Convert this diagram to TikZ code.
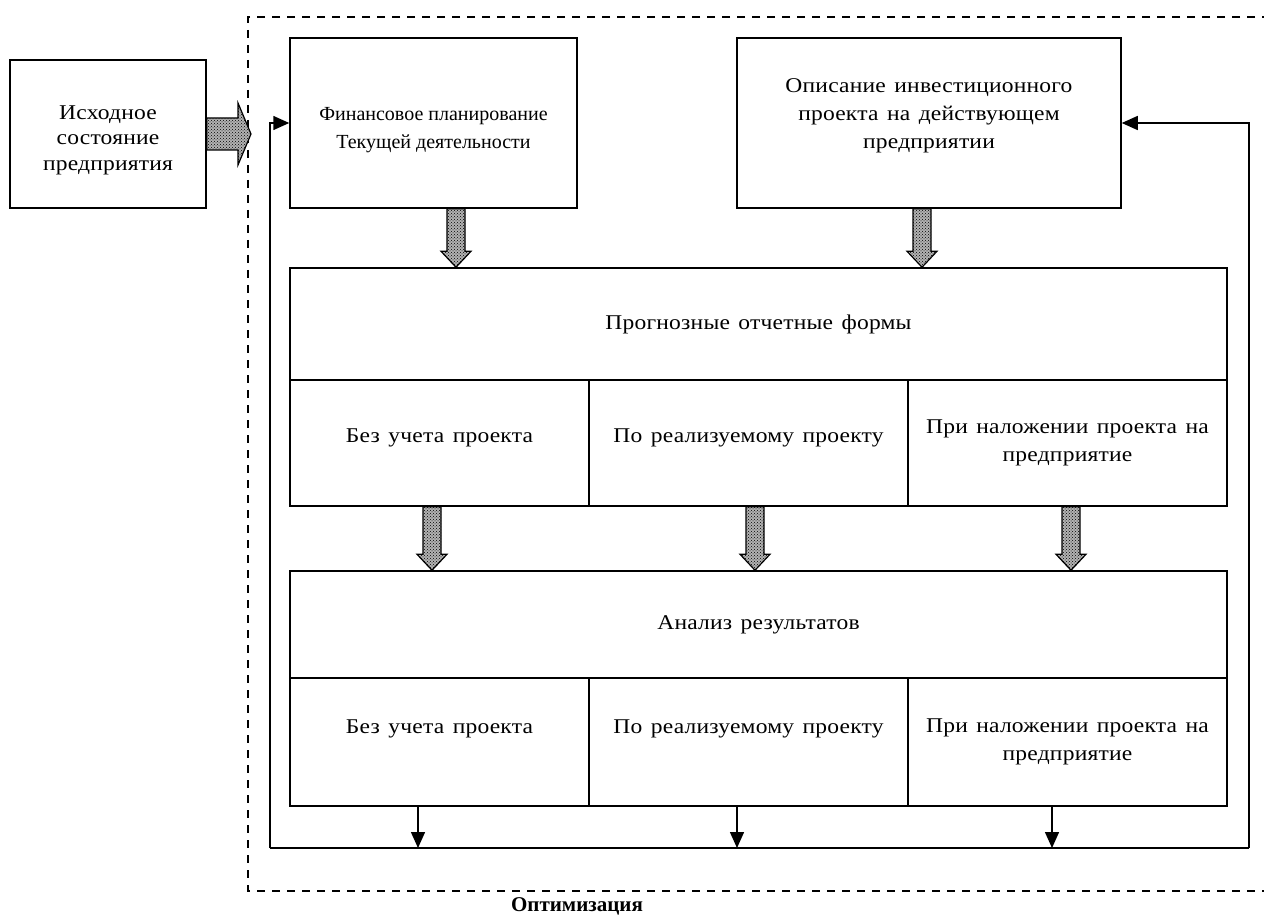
\documentclass[tikz,border=0pt]{standalone}
\usepackage{fontspec}
\setmainfont{Liberation Serif}
\newfontfamily\widefont[FakeStretch=1.12,LetterSpace=1,WordSpace=1.4]{Liberation Serif}
\usetikzlibrary{arrows.meta,patterns,calc}
\tikzset{
  box/.style={draw, line width=1.5pt, align=center, inner sep=0pt,
    font=\widefont\fontsize{21}{28}\selectfont},
  txt/.style={align=center, inner sep=0pt, font=\widefont\fontsize{21}{28}\selectfont},
  line/.style={line width=1.5pt},
  arr/.style={line width=1.5pt, -{Triangle[width=14pt,length=16pt]}},
  hatch/.style={draw, line width=1.2pt, preaction={fill=gray!60},
    pattern=crosshatch dots, pattern color=black},
  dashbox/.style={line width=1.5pt, dash pattern=on 8pt off 7pt},
}
\newcommand\vblock[2]{%
  \path[hatch] let \p1=(#1), \p2=(#2) in
    (\x1-9pt,\y1) -- (\x1-9pt,\y2+16pt) -- (\x1-15pt,\y2+16pt) -- (\x1,\y2)
    -- (\x1+15pt,\y2+16pt) -- (\x1+9pt,\y2+16pt) -- (\x1+9pt,\y1) -- cycle;}
\begin{document}
\begin{tikzpicture}[x=1pt,y=-1pt]
\useasboundingbox (0,0) rectangle (1264,920);
% dashed frame
\draw[dashbox] (1270,17) -- (248,17) -- (248,891) -- (1270,891);
\node[font=\fontsize{21}{24}\selectfont\bfseries] (opt) at (577,906) {Оптимизация};
% boxes
\node[box, minimum width=196pt, minimum height=148pt] (init) at (108,134) {};
\node[txt, font=\widefont\fontsize{21}{25.5}\selectfont] (initt) at (108,140) {Исходное\\состояние\\предприятия};
\node[box, minimum width=287pt, minimum height=170pt] (fin) at (433.5,123) {};
\node[txt, font=\fontsize{20}{28}\selectfont] (fint) at (433.5,130) {Финансовое планирование\\Текущей деятельности};
\node[box, minimum width=384pt, minimum height=170pt] (desc) at (929,123) {};
\node[txt] (desct) at (929,116) {Описание инвестиционного\\проекта на действующем\\предприятии};
% forecast block
\node[box, minimum width=937pt, minimum height=112pt] (progt) at (758.5,324) {Прогнозные отчетные формы};
\node[box, minimum width=299pt, minimum height=126pt, text depth=14pt] (p1) at (439.5,443) {Без учета проекта};
\node[box, minimum width=319pt, minimum height=126pt, text depth=14pt] (p2) at (748.5,443) {По реализуемому проекту};
\node[box, minimum width=319pt, minimum height=126pt] (p3) at (1067.5,443) {При наложении проекта на\\предприятие};
% analysis block
\node[box, minimum width=937pt, minimum height=107pt] (anat) at (758.5,624.5) {Анализ результатов};
\node[box, minimum width=299pt, minimum height=128pt, text depth=30pt] (a1) at (439.5,742) {Без учета проекта};
\node[box, minimum width=319pt, minimum height=128pt, text depth=30pt] (a2) at (748.5,742) {По реализуемому проекту};
\node[box, minimum width=319pt, minimum height=128pt] (a3) at (1067.5,742) {При наложении проекта на\\предприятие};
% hatched arrows
\vblock{fin.south -| 456,0}{progt.north -| 456,0}
\vblock{desc.south -| 922,0}{progt.north -| 922,0}
\vblock{p1.south -| 432,0}{anat.north -| 432,0}
\vblock{p2.south -| 755,0}{anat.north -| 755,0}
\vblock{p3.south -| 1071,0}{anat.north -| 1071,0}
% horizontal block arrow into frame
\coordinate (lt) at (251,134);
\path[hatch] let \p1=(init.east), \p2=(lt) in
  (\x1,\y1+16pt) -- (\x2-13pt,\y1+16pt) -- (\x2-13pt,\y1+31pt) -- (\x2,\y1)
  -- (\x2-13pt,\y1-31pt) -- (\x2-13pt,\y1-16pt) -- (\x1,\y1-16pt) -- cycle;
% feedback loops
\coordinate (bl) at (270,848);
\coordinate (br) at (1249,848);
\coordinate (c1) at (418,848);
\coordinate (c2) at (737,848);
\coordinate (c3) at (1052,848);
\draw[line] (bl) -- (br);
\draw[arr] (bl) |- (fin.west);
\draw[arr] (br) |- (desc.east);
\draw[arr] (a1.south -| c1) -- (c1);
\draw[arr] (a2.south -| c2) -- (c2);
\draw[arr] (a3.south -| c3) -- (c3);
\end{tikzpicture}
\end{document}
